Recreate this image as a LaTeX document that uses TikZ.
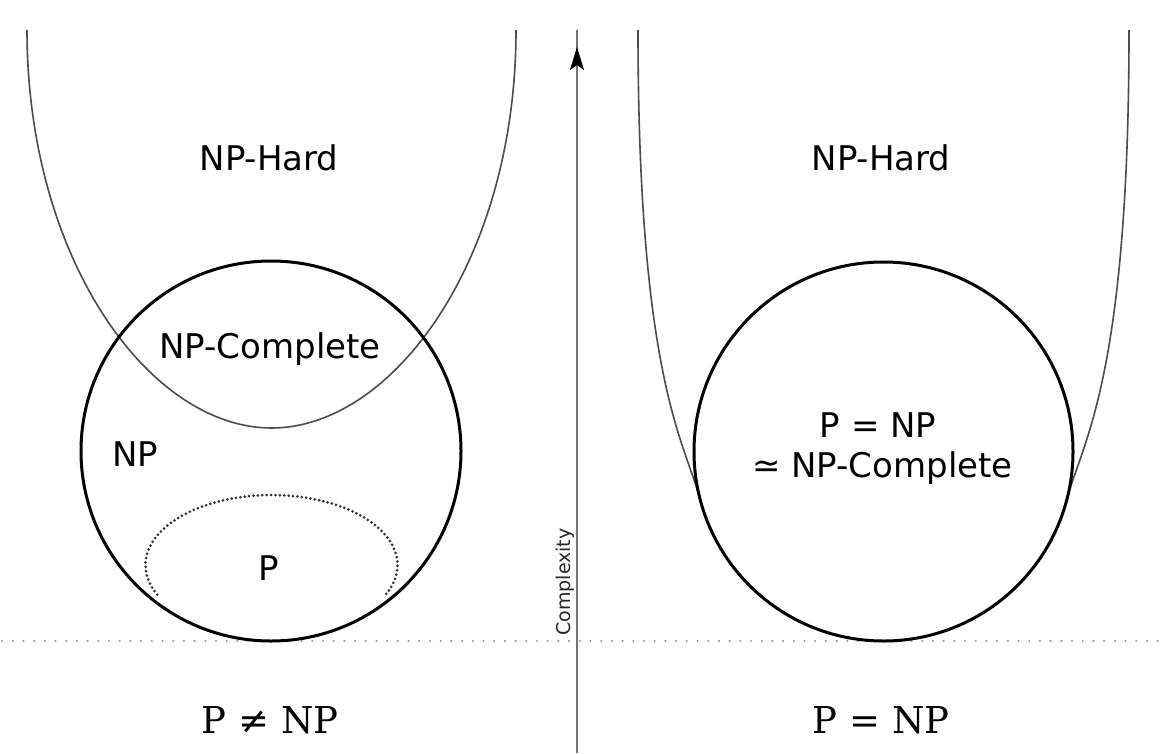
\documentclass[tikz,border=0pt]{standalone}
\usepackage{fontspec}
\setmainfont{DejaVu Serif}
\newfontfamily\dvsans{DejaVu Sans}
\usetikzlibrary{arrows.meta,decorations.markings}
\begin{document}
\begin{tikzpicture}[x=1pt,y=-1pt,
  setcircle/.style={line width=3pt, draw=black},
  hardcurve/.style={line width=1.6pt, draw=black!70},
  pdots/.style={line width=3pt, draw=black!80, line cap=round, dash pattern=on 0pt off 4.4pt},
  basedots/.style={line width=2.4pt, draw=black!40, line cap=round, dash pattern=on 0pt off 10.7pt},
  axisline/.style={line width=2pt, draw=black!55},
  lbl/.style={font=\dvsans\fontsize{34}{40}\selectfont, anchor=base, inner sep=0pt},
  eqlbl/.style={font=\fontsize{37}{44}\selectfont, anchor=base, inner sep=0pt},
  axlbl/.style={font=\dvsans\fontsize{19}{21}\selectfont, rotate=90, inner sep=0pt, text=black!85}]
\useasboundingbox (0,0) rectangle (1161,753);
\fill[white] (0,0) rectangle (1161,753);

% named coordinates
\coordinate (npL) at (271,451);
\coordinate (npR) at (883.5,451.5);
\coordinate (blL) at (2,641);
\coordinate (blR) at (1161,641);
\coordinate (axbot) at (577,753);
\coordinate (axtop) at (577,30);

% baseline
\draw[basedots] (blL) -- (blR);

% left: NP-Hard curve
\draw[hardcurve] (27,30) .. controls (27,260) and (150,428) .. (271.5,428)
                 .. controls (393,428) and (516,260) .. (516,30);
% left: NP circle
\draw[setcircle] (npL) circle[radius=190];
% left: P region
\draw[pdots] (157.3,594.6) arc[start angle=155, end angle=385, x radius=126, y radius=70];

% right: NP-Hard curve
\draw[hardcurve] (638,30) .. controls (638,380) and (685,442) .. (700.3,499.9)
                 arc[start angle=165.2, end angle=14.8, radius=189.5]
                 .. controls (1082,442) and (1129,380) .. (1129,30);
% right: circle
\draw[setcircle] (npR) circle[radius=189.5];

% axis
\draw[axisline, postaction={decorate},
  decoration={markings, mark=at position 0.9765 with {\arrow[black]{Stealth[length=23pt,width=14pt,inset=5pt]}}}]
  (axbot) -- (axtop);
\node[axlbl] (cx) at (565,582) {Complexity};

% labels left
\node[lbl] (hardL) at (269,170) {NP-Hard};
\node[lbl] (npcL) at (270,358) {NP-Complete};
\node[lbl] (npLbl) at (135,466) {NP};
\node[lbl] (pLbl) at (269,580) {P};
\node[eqlbl] (neq) at (270,733) {P ≠ NP};

% labels right
\node[lbl] (hardR) at (881,170) {NP-Hard};
\node[lbl] (peqR) at (878,437) {P = NP};
\node[lbl] (simR) at (882.5,477) {≃ NP-Complete};
\node[eqlbl] (eq) at (881,733) {P = NP};
\end{tikzpicture}
\end{document}
